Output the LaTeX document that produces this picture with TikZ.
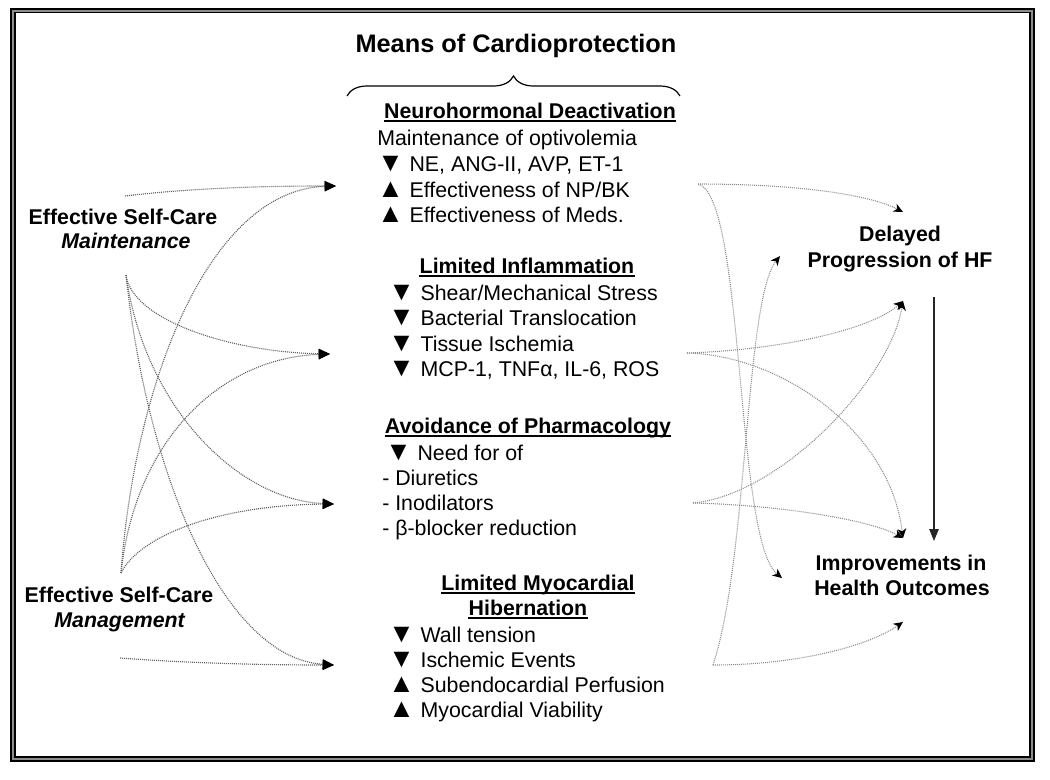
\documentclass[tikz,border=0pt]{standalone}
\usepackage{fontspec}
\setmainfont{Liberation Sans}
\usetikzlibrary{arrows.meta,decorations.pathreplacing}
\newcommand{\dn}{\smash{\scalebox{1.25}{▼}}}
\newcommand{\upt}{\smash{\scalebox{1.25}{▲}}}
\begin{document}
\begin{tikzpicture}[x=0.75pt,y=-0.75pt,
  body/.style={inner sep=0pt,anchor=base west,font=\fontsize{16}{19}\selectfont},
  head/.style={inner sep=0pt,anchor=base,font=\fontsize{16}{19}\selectfont\bfseries},
  uline/.style={line width=1.1pt,black},
  lab/.style={inner sep=0pt,anchor=base,font=\fontsize{16}{19}\selectfont\bfseries},
  titlestyle/.style={inner sep=0pt,anchor=base,font=\fontsize{19}{23}\selectfont\bfseries},
  larr/.style={draw=black!62,line width=0.85pt,dash pattern=on 0.75pt off 0.75pt,
    -{Triangle[length=8.5pt,width=7.5pt,color=black]}},
  rarr/.style={draw=black!45,line width=0.8pt,dash pattern=on 0.75pt off 0.75pt,
    -{Stealth[length=7pt,width=6.5pt,inset=2pt,color=black]}}]
\useasboundingbox (0,0) rectangle (1050,779);
% frame
\draw[line width=3.8pt,black] (13,10.5) rectangle (1032,759);
\draw[line width=1.5pt,black!45] (13,10.5) rectangle (1032,759);
% title and brace
\node[titlestyle] (title) at (516,52) {Means of Cardioprotection};
\draw[line width=0.9pt,decorate,decoration={brace,amplitude=15pt}] (347,96) -- (680,96);
% Neurohormonal Deactivation
\node[head] (ndh) at (530,118) {Neurohormonal Deactivation};
\draw[uline] ([yshift=-2.4pt]ndh.base west) -- ([yshift=-2.4pt]ndh.base east);
\node[body] (nd1) at (377,145) {Maintenance of optivolemia};
\node[body] (nd2) at (377,171) {\dn{} NE, ANG-II, AVP, ET-1};
\node[body] (nd3) at (377,197) {\upt{} Effectiveness of NP/BK};
\node[body] (nd4) at (377,222) {\upt{} Effectiveness of Meds.};
% Limited Inflammation
\node[head] (lih) at (527,273) {Limited Inflammation};
\draw[uline] ([yshift=-2.4pt]lih.base west) -- ([yshift=-2.4pt]lih.base east);
\node[body] (li1) at (388,300) {\dn{} Shear/Mechanical Stress};
\node[body] (li2) at (388,325.5) {\dn{} Bacterial Translocation};
\node[body] (li3) at (388,351) {\dn{} Tissue Ischemia};
\node[body] (li4) at (388,376.5) {\dn{} MCP-1, TNFα, IL-6, ROS};
% Avoidance of Pharmacology
\node[head] (aph) at (528,433) {Avoidance of Pharmacology};
\draw[uline] ([yshift=-2.4pt]aph.base west) -- ([yshift=-2.4pt]aph.base east);
\node[body] (ap1) at (385,460) {\dn{} Need for of};
\node[body] (ap2) at (382,485) {- Diuretics};
\node[body] (ap3) at (382,510) {- Inodilators};
\node[body] (ap4) at (382,535) {- β-blocker reduction};
% Limited Myocardial Hibernation
\node[head] (lmh1) at (538,590) {Limited Myocardial};
\draw[uline] ([yshift=-2.4pt]lmh1.base west) -- ([yshift=-2.4pt]lmh1.base east);
\node[head] (lmh2) at (528,615) {Hibernation};
\draw[uline] ([yshift=-2.4pt]lmh2.base west) -- ([yshift=-2.4pt]lmh2.base east);
\node[body] (lm1) at (388,642) {\dn{} Wall tension};
\node[body] (lm2) at (388,667) {\dn{} Ischemic Events};
\node[body] (lm3) at (388,692) {\upt{} Subendocardial Perfusion};
\node[body] (lm4) at (388,717) {\upt{} Myocardial Viability};
% left labels
\node[lab] (ma1) at (123,224) {Effective Self-Care};
\node[lab] (ma2) at (126,248) {\textit{Maintenance}};
\node[lab] (mg1) at (119,602) {Effective Self-Care};
\node[lab] (mg2) at (120,627) {\textit{Management}};
% right labels
\node[lab] (dp1) at (900,241) {Delayed};
\node[lab] (dp2) at (900,267) {Progression of HF};
\node[lab] (io1) at (901,570) {Improvements in};
\node[lab] (io2) at (902,595) {Health Outcomes};
% connector end points
\coordinate (sMa) at (125,196);
\coordinate (sMb) at (126,275);
\coordinate (sGa) at (121,573);
\coordinate (sGb) at (120,658);
\coordinate (tND) at (336,186);
\coordinate (tLI) at (330,354);
\coordinate (tAP) at (334,504);
\coordinate (tLM) at (334,665);
\coordinate (rND) at (698,184);
\coordinate (rLI) at (687,353);
\coordinate (rAP) at (693,503);
\coordinate (rLM) at (713,665);
\coordinate (dTop) at (903,212);
\coordinate (dLeft) at (780,256);
\coordinate (dBot) at (903,301);
\coordinate (iTop) at (903,538);
\coordinate (iLeft) at (782,578);
\coordinate (iBot) at (903,622);
\coordinate (vS) at (934,297);
\coordinate (vE) at (934,541);
% left connectors
\draw[larr] (sMa) .. controls (200,187) and (280,186) .. (tND);
\draw[larr] (sMb) .. controls (132,320) and (230,352) .. (tLI);
\draw[larr] (sMb) .. controls (145,410) and (240,500) .. (tAP);
\draw[larr] (sMb) .. controls (148,480) and (225,658) .. (tLM);
\draw[larr] (sGa) .. controls (135,380) and (210,190) .. (tND);
\draw[larr] (sGa) .. controls (135,440) and (220,358) .. (tLI);
\draw[larr] (sGa) .. controls (140,535) and (220,505) .. (tAP);
\draw[larr] (sGb) .. controls (200,664) and (280,665) .. (tLM);
% right connectors
\draw[rarr] (rND) .. controls (800,184) and (870,195) .. (dTop);
\draw[rarr] (rND) .. controls (745,195) and (735,540) .. (iLeft);
\draw[rarr] (rLM) .. controls (748,560) and (745,300) .. (dLeft);
\draw[rarr] (rLI) .. controls (780,350) and (870,330) .. (dBot);
\draw[rarr] (rLI) .. controls (780,355) and (890,430) .. (iTop);
\draw[rarr] (rAP) .. controls (780,495) and (890,380) .. (dBot);
\draw[rarr] (rAP) .. controls (780,505) and (870,520) .. (iTop);
\draw[rarr] (rLM) .. controls (800,665) and (870,645) .. (iBot);
% solid arrow
\draw[line width=1.3pt,black!85,-{Triangle[length=9pt,width=7pt]}] (vS) -- (vE);
\end{tikzpicture}
\end{document}
